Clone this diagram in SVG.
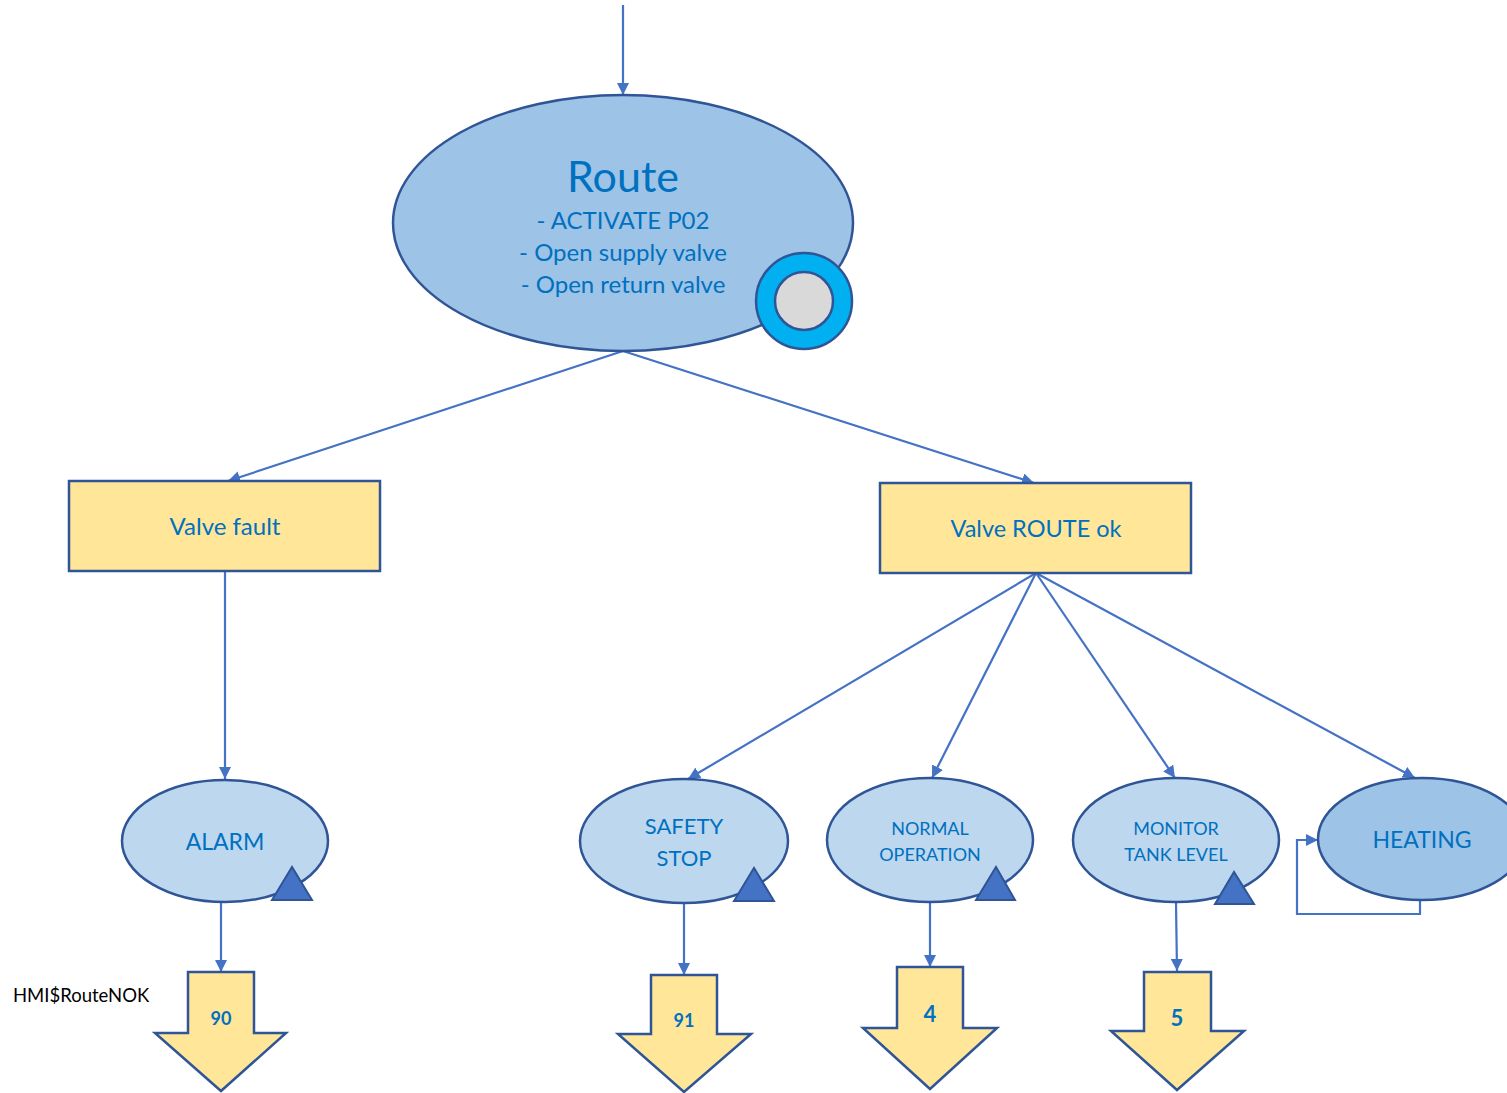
<svg xmlns="http://www.w3.org/2000/svg" width="1507" height="1093" viewBox="0 0 1507 1093">
<style>
.t{font-family:Lato,"Liberation Sans",sans-serif;fill:#0070C0;text-anchor:middle}
.b{font-family:Lato,"Liberation Sans",sans-serif;fill:#0070C0;text-anchor:middle;font-weight:bold}
.st{fill:#BDD7EE;stroke:#2F5597;stroke-width:2.5}
.st2{fill:#9DC3E6;stroke:#2F5597;stroke-width:2.5}
.box{fill:#FFE699;stroke:#2F5597;stroke-width:2.5}
.tri{fill:#4472C4;stroke:#2F5597;stroke-width:2}
.c{fill:none;stroke:#4472C4;stroke-width:2.2}
</style>
<defs>
<marker id="ah" viewBox="0 0 10 10" refX="10" refY="5" markerWidth="5.5" markerHeight="5.5" orient="auto" markerUnits="strokeWidth">
<path d="M0,0 L10,5 L0,10 z" fill="#4472C4"/>
</marker>
</defs>
<rect width="1507" height="1093" fill="#fff"/>
<g id="connectors">
<line class="c" x1="623" y1="5" x2="623" y2="95" marker-end="url(#ah)"/>
<line class="c" x1="623" y1="351" x2="228" y2="481" marker-end="url(#ah)"/>
<line class="c" x1="623" y1="351" x2="1034" y2="483" marker-end="url(#ah)"/>
<line class="c" x1="225" y1="571" x2="225" y2="779" marker-end="url(#ah)"/>
<line class="c" x1="1036" y1="573" x2="688" y2="779" marker-end="url(#ah)"/>
<line class="c" x1="1036" y1="573" x2="932" y2="778" marker-end="url(#ah)"/>
<line class="c" x1="1036" y1="573" x2="1175" y2="778" marker-end="url(#ah)"/>
<line class="c" x1="1036" y1="573" x2="1415" y2="778" marker-end="url(#ah)"/>
<line class="c" x1="221" y1="903" x2="221" y2="972" marker-end="url(#ah)"/>
<line class="c" x1="684" y1="903" x2="684" y2="975" marker-end="url(#ah)"/>
<line class="c" x1="930" y1="903" x2="930" y2="967" marker-end="url(#ah)"/>
<line class="c" x1="1176" y1="903" x2="1177" y2="971" marker-end="url(#ah)"/>
<polyline class="c" points="1420,900 1420,914 1297,914 1297,840 1318,840" marker-end="url(#ah)"/>
</g>
<g id="route">
<ellipse class="st2" cx="623" cy="223" rx="230" ry="128"/>
<text class="t" x="623" y="192" font-size="43">Route</text>
<text class="t" x="623" y="229" font-size="24">- ACTIVATE P02</text>
<text class="t" x="623" y="261" font-size="24">- Open supply valve</text>
<text class="t" x="623" y="293" font-size="24">- Open return valve</text>
<circle cx="804" cy="301" r="48" fill="#00B0F0" stroke="#2F5597" stroke-width="2.5"/>
<circle cx="804" cy="301" r="29" fill="#D9D9D9" stroke="#2F5597" stroke-width="2.5"/>
</g>
<g id="valve-fault">
<rect class="box" x="69" y="481" width="311" height="90"/>
<text class="t" x="225" y="535" font-size="24">Valve fault</text>
</g>
<g id="valve-route-ok">
<rect class="box" x="880" y="483" width="311" height="90"/>
<text class="t" x="1036" y="537" font-size="23.5">Valve ROUTE ok</text>
</g>
<g id="alarm">
<ellipse class="st" cx="225" cy="841" rx="103" ry="61"/>
<text class="t" x="225" y="850" font-size="23">ALARM</text>
<polygon class="tri" points="272,900 292,867 312,900"/>
</g>
<g id="safety-stop">
<ellipse class="st" cx="684" cy="841" rx="104" ry="62"/>
<text class="t" x="684" y="834" font-size="22">SAFETY</text>
<text class="t" x="684" y="866" font-size="22">STOP</text>
<polygon class="tri" points="734,901 754,868 774,901"/>
</g>
<g id="normal-operation">
<ellipse class="st" cx="930" cy="840" rx="103" ry="62"/>
<text class="t" x="930" y="835" font-size="18">NORMAL</text>
<text class="t" x="930" y="861" font-size="18">OPERATION</text>
<polygon class="tri" points="976,900 996,867 1015,900"/>
</g>
<g id="monitor-tank-level">
<ellipse class="st" cx="1176" cy="840" rx="103" ry="62"/>
<text class="t" x="1176" y="835" font-size="18">MONITOR</text>
<text class="t" x="1176" y="861" font-size="18">TANK LEVEL</text>
<polygon class="tri" points="1215,904 1234,872 1254,904"/>
</g>
<g id="heating">
<ellipse class="st2" cx="1422" cy="839" rx="104" ry="61"/>
<text class="t" x="1422" y="848" font-size="23">HEATING</text>
</g>
<g id="step-90">
<polygon class="box" points="188,972 254,972 254,1033 286,1033 221,1091 155,1033 188,1033"/>
<text class="b" x="221" y="1025" font-size="18">90</text>
</g>
<g id="step-91">
<polygon class="box" points="651,975 717,975 717,1034 751,1034 684,1092 618,1034 651,1034"/>
<text class="b" x="684" y="1027" font-size="18">91</text>
</g>
<g id="step-4">
<polygon class="box" points="897,967 963,967 963,1028 997,1028 930,1089 863,1028 897,1028"/>
<text class="b" x="930" y="1022" font-size="22">4</text>
</g>
<g id="step-5">
<polygon class="box" points="1144,972 1211,972 1211,1031 1244,1031 1177,1090 1111,1031 1144,1031"/>
<text class="b" x="1177" y="1026" font-size="22">5</text>
</g>
<text x="13" y="1002" font-family="Lato,'Liberation Sans',sans-serif" font-size="18.5" fill="#000">HMI$RouteNOK</text>
</svg>
